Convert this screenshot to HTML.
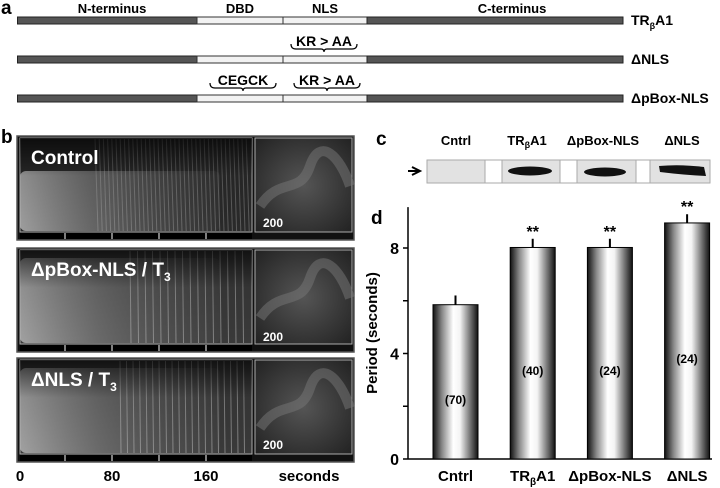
<!DOCTYPE html>
<html><head><meta charset="utf-8"><style>
html,body{margin:0;padding:0;background:#fff}
svg{display:block;font-family:"Liberation Sans",Arial,sans-serif}
</style></head><body>
<svg id="fig" width="720" height="488" viewBox="0 0 720 488">
<defs>
<linearGradient id="barg" x1="0" x2="1" y1="0" y2="0">
<stop offset="0" stop-color="#111"/><stop offset="0.2" stop-color="#888"/><stop offset="0.45" stop-color="#fff"/><stop offset="0.6" stop-color="#f4f4f4"/><stop offset="0.85" stop-color="#666"/><stop offset="1" stop-color="#111"/>
</linearGradient>
<linearGradient id="glow" x1="0" x2="1" y1="0" y2="0">
<stop offset="0" stop-color="#bbb" stop-opacity="0.8"/><stop offset="0.4" stop-color="#999" stop-opacity="0.5"/><stop offset="1" stop-color="#777" stop-opacity="0.1"/>
</linearGradient>
<linearGradient id="vglow" x1="0" x2="0" y1="0" y2="1">
<stop offset="0" stop-color="#000" stop-opacity="0.7"/><stop offset="0.4" stop-color="#000" stop-opacity="0.1"/><stop offset="1" stop-color="#000" stop-opacity="0"/>
</linearGradient>
<radialGradient id="tis1" cx="0.5" cy="0.5" r="0.7"><stop offset="0" stop-color="#555"/><stop offset="1" stop-color="#222"/></radialGradient>
</defs>

<g>
<text x="1" y="14" font-size="19" font-weight="bold">a</text>
<text x="112" y="13" font-size="13" font-weight="bold" text-anchor="middle">N-terminus</text>
<text x="240" y="13" font-size="13" font-weight="bold" text-anchor="middle">DBD</text>
<text x="325" y="13" font-size="13" font-weight="bold" text-anchor="middle">NLS</text>
<text x="512" y="13" font-size="13" font-weight="bold" text-anchor="middle">C-terminus</text>
<g id="constructs"></g>
</g>

<g>
<text x="1" y="143" font-size="19" font-weight="bold">b</text>
<g id="kymos"></g>
<text x="20" y="481" font-size="15" font-weight="bold" text-anchor="middle">0</text>
<text x="112" y="481" font-size="15" font-weight="bold" text-anchor="middle">80</text>
<text x="206" y="481" font-size="15" font-weight="bold" text-anchor="middle">160</text>
<text x="309" y="481" font-size="15" font-weight="bold" text-anchor="middle">seconds</text>
</g>

<g>
<text x="376" y="145" font-size="19" font-weight="bold">c</text>
<text x="456" y="145" font-size="13" font-weight="bold" text-anchor="middle">Cntrl</text>
<text x="527" y="145" font-size="13" font-weight="bold" text-anchor="middle">TR<tspan font-size="9" dy="3">β</tspan><tspan dy="-3">A1</tspan></text>
<text x="603" y="145" font-size="13" font-weight="bold" text-anchor="middle">ΔpBox-NLS</text>
<text x="682" y="145" font-size="13" font-weight="bold" text-anchor="middle">ΔNLS</text>
<path d="M408,171 L420,171 M412,167 L420,171 L412,175" stroke="#000" stroke-width="2" fill="none"/>
<rect x="427" y="160" width="283" height="23" fill="#e2e2e2" stroke="#aaa"/>
<rect x="485" y="160" width="17" height="23" fill="#fff" stroke="#aaa"/>
<rect x="560" y="160" width="17" height="23" fill="#fff" stroke="#aaa"/>
<rect x="636" y="160" width="14" height="23" fill="#fff" stroke="#aaa"/>
<ellipse cx="530" cy="171" rx="22" ry="4.5" fill="#111"/>
<ellipse cx="605" cy="172" rx="21" ry="4.5" fill="#111"/>
<path d="M659,166 Q680,164 704,167 L706,176 Q684,175 660,172 Z" fill="#111"/>
</g>

<g id="chart">
<text x="371" y="224" font-size="19" font-weight="bold">d</text>
<text transform="translate(377,333) rotate(-90)" font-size="15" font-weight="bold" text-anchor="middle">Period (seconds)</text>
</g>
</svg>
<script>
var categories = ["Cntrl", "TRβA1", "ΔpBox-NLS", "ΔNLS"];
var means = [5.85, 8.02, 8.02, 8.95];
var errors = [0.35, 0.33, 0.33, 0.33];
var counts = ["(70)", "(40)", "(24)", "(24)"];
var signif = ["", "**", "**", "**"];
var yTicks = [0, 2, 4, 6, 8];
var yTickLabels = ["0", "", "4", "", "8"];

var NS = "http://www.w3.org/2000/svg";
function mk(tag, attrs, parent, txt){
  var e = document.createElementNS(NS, tag);
  for (var k in attrs) e.setAttribute(k, attrs[k]);
  if (txt !== undefined) e.textContent = txt;
  parent.appendChild(e);
  return e;
}
var chart = document.getElementById("chart");
var y0 = 459, pxPerUnit = 26.375, yMaxVal = 9.55;
function yScale(v){ return y0 - v * pxPerUnit; }
var axisX = 408, bandStart = 418, bandStep = 77.2, barW = 45;
function xScale(i){ return bandStart + i * bandStep + 15; }

var ax = mk("line", {x1:axisX, x2:axisX, y1:yScale(yMaxVal), y2:y0, stroke:"#000", "stroke-width":1.5}, chart);


var bx = mk("line", {x1:axisX, x2:712, y1:y0, y2:y0, stroke:"#000", "stroke-width":1.5}, chart);


yTicks.forEach(function(t, i){
  var tk = mk("line", {x1:axisX-5, x2:axisX, y1:yScale(t), y2:yScale(t), stroke:"#000", "stroke-width":1.5}, chart);
  
  
  if (yTickLabels[i]) {
    var tl = mk("text", {x:axisX-9, y:yScale(t)+6, "font-size":16, "font-weight":"bold", "text-anchor":"end"}, chart, yTickLabels[i]);
    
    
  }
});
categories.forEach(function(c, i){
  var x = xScale(i), top = yScale(means[i]);
  var eb = mk("line", {x1:x+barW/2, x2:x+barW/2, y1:top, y2:yScale(means[i]+errors[i]), stroke:"#000", "stroke-width":2}, chart);
  
  
  var r = mk("rect", {x:x, y:top, width:barW, height:y0-top, fill:"url(#barg)", stroke:"#000", "stroke-width":1}, chart);
  
  
  var ct = mk("text", {x:x+barW/2, y:(top+y0)/2+22, "font-size":12, "font-weight":"bold", "text-anchor":"middle"}, chart, counts[i]);
  
  
  if (signif[i]) {
    var st = mk("text", {x:x+barW/2, y:yScale(means[i]+errors[i])-2, "font-size":16, "font-weight":"bold", "text-anchor":"middle"}, chart, signif[i]);
    
    
  }
  var xl = mk("text", {x:x+barW/2, y:481, "font-size":15, "font-weight":"bold", "text-anchor":"middle"}, chart);
  
  
  if (c === "TRβA1") {
    xl.appendChild(document.createTextNode("TR"));
    mk("tspan", {"font-size":10, dy:4}, xl, "β");
    mk("tspan", {dy:-4}, xl, "A1");
  } else xl.textContent = c;
});

var cons = document.getElementById("constructs");
var rowY = [17, 56, 95], rowNames = ["TRβA1", "ΔNLS", "ΔpBox-NLS"];
rowY.forEach(function(y, i){
  var g = mk("g", {}, cons);
  
  
  mk("rect", {x:17.5, y:y, width:179.5, height:7, fill:"#555", stroke:"#222"}, g);
  mk("rect", {x:197, y:y, width:86, height:7, fill:"#f2f2f2", stroke:"#333"}, g);
  mk("rect", {x:283, y:y, width:84, height:7, fill:"#f2f2f2", stroke:"#333"}, g);
  mk("rect", {x:367, y:y, width:256, height:7, fill:"#555", stroke:"#222"}, g);
  var lab = mk("text", {x:631, y:y+8, "font-size":14, "font-weight":"bold"}, g);
  
  
  if (i === 0) { lab.appendChild(document.createTextNode("TR")); mk("tspan", {"font-size":9, dy:4}, lab, "β"); mk("tspan", {dy:-4}, lab, "A1"); }
  else lab.textContent = rowNames[i];
});
function brace(x1, x2, y, label, name){
  var m = (x1+x2)/2;
  var p = mk("path", {d:"M"+x1+","+(y-5)+" Q"+x1+","+y+" "+(x1+5)+","+y+" L"+(m-3)+","+y+" Q"+m+","+y+" "+m+","+(y+3)+" Q"+m+","+y+" "+(m+3)+","+y+" L"+(x2-5)+","+y+" Q"+x2+","+y+" "+x2+","+(y-5), fill:"none", stroke:"#000", "stroke-width":1.2}, cons);
  
  
  var t = mk("text", {x:m, y:y-3, "font-size":14, "font-weight":"bold", "text-anchor":"middle"}, cons, label);
  
  
}
brace(291, 357, 49, "KR > AA", "mutation-kr-aa-1");
brace(210, 276, 88, "CEGCK", "mutation-cegck");
brace(294, 360, 88, "KR > AA", "mutation-kr-aa-2");

var kymos = document.getElementById("kymos");
var panelY = [136, 248, 358], titles = ["Control", "ΔpBox-NLS / T", "ΔNLS / T"];
var stripeStart = [95, 130, 120], stripeGap = [4.2, 7.5, 6.5];
panelY.forEach(function(py, i){
  var g = mk("g", {}, kymos);
  
  
  mk("rect", {x:17, y:py, width:337, height:104, fill:"#111", stroke:"#555", "stroke-width":1.5}, g);
  mk("rect", {x:20, y:py+2, width:232, height:94, fill:i===0?"#2a2a2a":"#3a3a3a", stroke:"#aaa", "stroke-width":1}, g);
  mk("rect", {x:20, y:py+(i===0?35:10), width:200, height:(i===0?60:85), fill:"url(#glow)", rx:6}, g);
  for (var x = stripeStart[i]; x < 250; x += stripeGap[i]) {
    mk("line", {x1:x, x2:x+(i===0?3:1), y1:py+3, y2:py+95, stroke:"#bbb", "stroke-opacity":(i===0?0.35:0.55), "stroke-width":1}, g);
  }
  mk("rect", {x:20, y:py+2, width:232, height:94, fill:"url(#vglow)"}, g);
  mk("rect", {x:255, y:py+2, width:97, height:94, fill:"url(#tis1)", stroke:"#aaa", "stroke-width":1}, g);
  mk("path", {d:"M260,"+(py+70)+" C280,"+(py+40)+" 300,"+(py+60)+" 310,"+(py+30)+" S340,"+(py+20)+" 350,"+(py+50), fill:"none", stroke:"#777", "stroke-width":10, "stroke-opacity":0.5}, g);
  mk("rect", {x:20, y:py+97, width:232, height:6, fill:"#000"}, g);
  [65,112,159,206].forEach(function(tx){ mk("line", {x1:tx, x2:tx, y1:py+97, y2:py+103, stroke:"#fff", "stroke-width":1}, g); });
  var t = mk("text", {x:31, y:py+28, "font-size":19, "font-weight":"bold", fill:"#fff"}, g, titles[i]);
  
  
  if (i > 0) mk("tspan", {"font-size":12, dy:5}, t, "3");
  var s = mk("text", {x:263, y:py+(i===1?93:91), "font-size":12, "font-weight":"bold", fill:"#fff"}, g, "200");
  
  
});
</script>
</body></html>
